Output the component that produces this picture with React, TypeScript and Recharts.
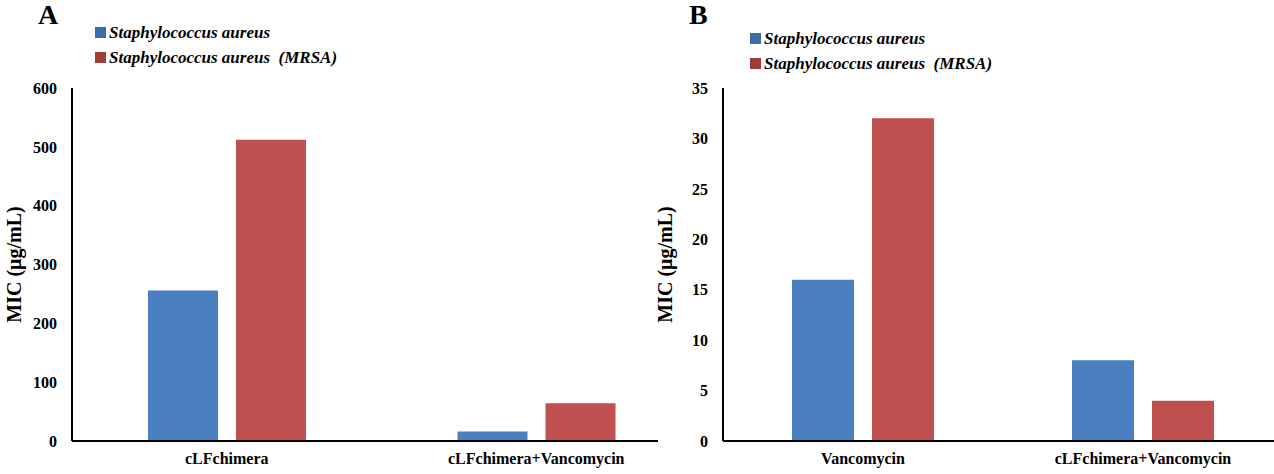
import React from "react";
import { BarChart, Bar, XAxis, YAxis, Legend, Label } from "recharts";

const seriesNames = ["Staphylococcus aureus", "Staphylococcus aureus  (MRSA)"];

const categoriesA = ["cLFchimera", "cLFchimera+Vancomycin"];
const saureusA = [256, 16];
const mrsaA = [512, 64];
const ticksA = [0, 100, 200, 300, 400, 500, 600];

const categoriesB = ["Vancomycin", "cLFchimera+Vancomycin"];
const saureusB = [16, 8];
const mrsaB = [32, 4];
const ticksB = [0, 5, 10, 15, 20, 25, 30, 35];

const BLUE = "#4A7FC0";
const RED = "#C0504F";
const FONT = "'Liberation Serif', 'Times New Roman', serif";

const toRows = (cats: string[], a: number[], b: number[]) =>
  cats.map((c, i) => ({ name: c, sa: a[i], mrsa: b[i] }));

const dataA = toRows(categoriesA, saureusA, mrsaA);
const dataB = toRows(categoriesB, saureusB, mrsaB);

const tickStyle = { fill: "#000", fontSize: 16, fontWeight: 700, fontFamily: FONT };

function LegendBox() {
  const items = [
    { label: seriesNames[0], color: "#3B6DA8" },
    { label: seriesNames[1], color: "#A03B39" },
  ];
  return (
    <div style={{ fontFamily: FONT, fontSize: 17, fontWeight: 700, fontStyle: "italic", color: "#000" }}>
      {items.map((it) => (
        <div key={it.label} style={{ display: "flex", alignItems: "center", height: 25, whiteSpace: "pre" }}>
          <span style={{ display: "inline-block", width: 11, height: 11, background: it.color, marginRight: 3 }} />
          {it.label}
        </div>
      ))}
    </div>
  );
}

interface PanelProps {
  letter: string;
  data: { name: string; sa: number; mrsa: number }[];
  ticks: number[];
  width: number;
  barSize: number;
  padRight: number;
  legendTop: number;
  legendLeft: number;
}

function Panel({ letter, data, ticks, width, barSize, padRight, legendTop, legendLeft }: PanelProps) {
  return (
    <div style={{ position: "relative", width, height: 474 }}>
      <div
        style={{
          position: "absolute",
          left: 38,
          top: -1,
          fontFamily: FONT,
          fontWeight: 700,
          fontSize: 28,
          color: "#000",
        }}
      >
        {letter}
      </div>
      <BarChart
        width={width}
        height={474}
        data={data}
        margin={{ top: 88, right: 0, bottom: 0, left: 0 }}
        barSize={barSize}
        barGap={18}
      >
        <XAxis
          dataKey="name"
          height={33}
          tickLine={false}
          tickSize={0}
          tickMargin={12}
          interval={0}
          axisLine={{ stroke: "#000", strokeWidth: 2 }}
          tick={tickStyle}
          padding={{ left: 0, right: padRight }}
        />
        <YAxis
          width={72}
          domain={[0, ticks[ticks.length - 1]]}
          ticks={ticks}
          interval={0}
          tickLine={false}
          tickSize={0}
          tickMargin={15}
          axisLine={{ stroke: "#000", strokeWidth: 2 }}
          tick={tickStyle}
        >
          <Label
            value="MIC (μg/mL)"
            angle={-90}
            position="insideLeft"
            offset={14}
            style={{ textAnchor: "middle", fill: "#000", fontSize: 20, fontWeight: 700, fontFamily: FONT }}
          />
        </YAxis>
        <Legend
          verticalAlign="middle"
          align="center"
          layout="vertical"
          wrapperStyle={{ top: legendTop, left: legendLeft, width: 320 }}
          content={() => <LegendBox />}
        />
        <Bar dataKey="sa" name={seriesNames[0]} fill={BLUE} isAnimationActive={false} />
        <Bar dataKey="mrsa" name={seriesNames[1]} fill={RED} isAnimationActive={false} />
      </BarChart>
    </div>
  );
}

export default function App() {
  return (
    <div
      style={{
        position: "absolute",
        left: 0,
        top: 0,
        width: 1274,
        height: 474,
        overflow: "hidden",
        background: "#fff",
      }}
    >
      <div style={{ position: "absolute", left: 0, top: 0 }}>
        <Panel
          letter="A"
          data={dataA}
          ticks={ticksA}
          width={658}
          barSize={70}
          padRight={-33}
          legendTop={20}
          legendLeft={95}
        />
      </div>
      <div style={{ position: "absolute", left: 651, top: 0 }}>
        <Panel
          letter="B"
          data={dataB}
          ticks={ticksB}
          width={632}
          barSize={62}
          padRight={0}
          legendTop={26}
          legendLeft={99}
        />
      </div>
    </div>
  );
}
